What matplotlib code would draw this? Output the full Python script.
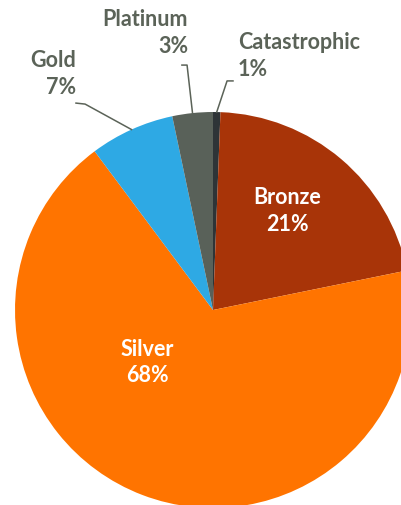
import numpy as np
import matplotlib.pyplot as plt

# data (clockwise from 12 o'clock)
tiers = ["Catastrophic", "Bronze", "Silver", "Gold", "Platinum"]
shares = [0.6, 21.2, 68.0, 6.9, 3.3]
colors = ["#2e3437", "#a83408", "#ff7400", "#2ea9e4", "#596159"]

text_grey = "#5b6358"
plt.rcParams['font.family'] = ['Lato', 'DejaVu Sans']

fig = plt.figure(figsize=(4.01, 5.06), dpi=100)
ax = fig.add_axes([0, 0, 1, 1])

wedges, _ = ax.pie(shares, colors=colors, startangle=90, counterclock=False,
                   radius=1, center=(0, 0), wedgeprops=dict(linewidth=0))

# pie resets the limits, so set them afterwards
ax.set_xlim(-1.0758, 0.9495)
ax.set_ylim(-0.9848, 1.5707)
ax.set_aspect('equal')
ax.axis('off')

labels = [f"{n}\n{v:.0f}%" for n, v in zip(tiers, shares)]

# inside labels
inside = {"Bronze": (0.374, 0.505), "Silver": (-0.333, -0.258)}
# outside labels: text pos, alignment, leader start, elbow
outside = {
    "Gold": ((-0.692, 1.197), "right", (-0.692, 1.045), (-0.646, 1.040)),
    "Platinum": ((-0.126, 1.404), "right", (-0.157, 1.237), (-0.131, 1.237)),
    "Catastrophic": ((0.126, 1.288), "left", (0.101, 1.157), (0.071, 1.157)),
}

for w, name, lab in zip(wedges, tiers, labels):
    if name in inside:
        x, y = inside[name]
        ax.text(x, y, lab, ha='center', va='center', color='white',
                fontsize=15.5, fontweight='bold', linespacing=1.3)
    else:
        (tx, ty), ha, p0, p1 = outside[name]
        ang = np.deg2rad((w.theta1 + w.theta2) / 2)
        edge = (np.cos(ang), np.sin(ang))
        ax.plot([p0[0], p1[0], edge[0]], [p0[1], p1[1], edge[1]],
                color=text_grey, linewidth=1.1, zorder=3)
        ax.text(tx, ty, lab, ha=ha, va='center', color=text_grey,
                fontsize=15.5, fontweight='bold', linespacing=1.3,
                multialignment=ha)

fig.savefig("out.png", dpi=100)
